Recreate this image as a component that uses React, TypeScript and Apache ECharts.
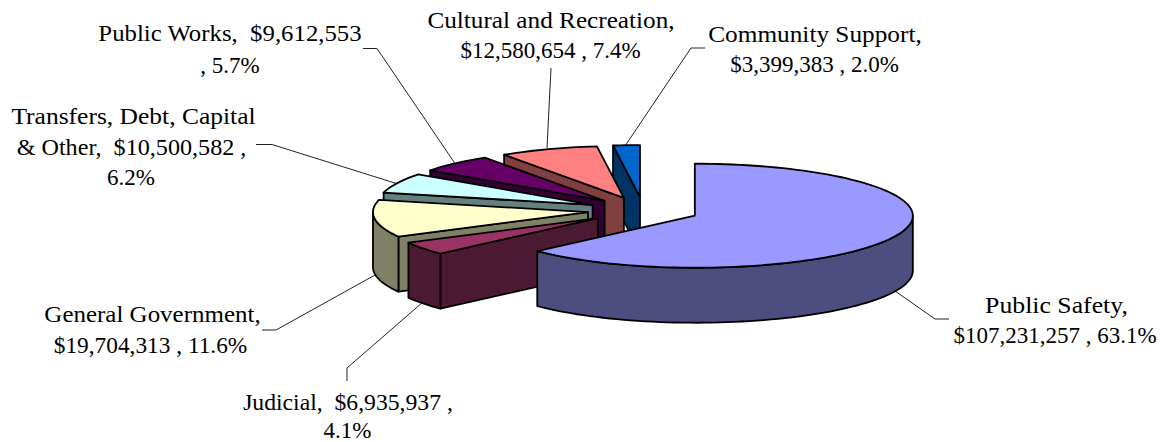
import React, { useEffect, useRef } from "react";
import * as echarts from "echarts";

const sliceNames = ["Public Safety", "Judicial", "General Government", "Transfers, Debt, Capital & Other", "Public Works", "Cultural and Recreation", "Community Support"];
const sliceValues = [107231257, 6935937, 19704313, 10500582, 9612553, 12580654, 3399383];
const topColors = ["#9999FF", "#993366", "#FFFFCC", "#CCFFFF", "#660066", "#FF8080", "#0066CC"];
const sideColors = ["#4D4D80", "#4D1A33", "#808066", "#668080", "#330033", "#804040", "#003366"];
const labelLines = [
  ["Public Safety,", "$107,231,257 , 63.1%"],
  ["Judicial,  $6,935,937 ,", "4.1%"],
  ["General Government,", "$19,704,313 , 11.6%"],
  ["Transfers, Debt, Capital", "& Other,  $10,500,582 ,", "6.2%"],
  ["Public Works,  $9,612,553", ", 5.7%"],
  ["Cultural and Recreation,", "$12,580,654 , 7.4%"],
  ["Community Support,", "$3,399,383 , 2.0%"],
];
// [centre x, centre y, horizontal stretch] of every label line
const labelLayout = [
  [[1056.5, 304.5, 1.12], [1055, 335.5, 1.0]],
  [[348, 402.5, 1.03], [347.5, 430, 1.0]],
  [[152.5, 314.5, 1.086], [150.5, 345.5, 1.015]],
  [[133.5, 116, 1.11], [131.5, 147, 1.05], [131, 177, 1.0]],
  [[230, 33, 1.078], [230, 65, 1.0]],
  [[551, 19.5, 1.097], [550.5, 50, 1.0]],
  [[815, 33.5, 1.1], [814.5, 64.5, 1.0]],
];
const leaderLines = [
  [[895, 291], [935, 319], [949, 319]],
  [[423, 302], [347, 368], [347, 381]],
  [[375, 275], [276, 330], [262, 330]],
  [[398, 184], [272, 144.5], [256, 144.5]],
  [[456, 165], [377, 48.5], [363, 48.5]],
  [[547, 148], [551, 68]],
  [[625, 146], [691, 48], [705, 48]],
];

const CX = 643.5, CY = 210.4, RX_RIGHT = 218, RX_LEFT = 215, RY = 52, DEPTH = 55, EXPLODE = 56;
const total = sliceValues.reduce((a, b) => a + b, 0);
const rad = (d: number) => (d * Math.PI) / 180;

function renderSlice(_params: any, api: any) {
  const i = api.value(0);
  const before = sliceValues.slice(0, i).reduce((a, b) => a + b, 0);
  const a1 = (before / total) * 360;
  const a2 = ((before + api.value(1)) / total) * 360;
  const mid = (a1 + a2) / 2;
  const ax = CX + EXPLODE * Math.sin(rad(mid));
  const ay = CY - EXPLODE * (RY / RX_RIGHT) * Math.cos(rad(mid));
  const rim = (a: number, dz = 0) => {
    const s = Math.sin(rad(a));
    return [ax + (s > 0 ? RX_RIGHT : RX_LEFT) * s, ay - RY * Math.cos(rad(a)) + dz];
  };
  const arc = (from: number, to: number, dz = 0) => {
    const n = Math.max(2, Math.ceil(Math.abs(to - from) / 2));
    const pts: number[][] = [];
    for (let k = 0; k <= n; k++) pts.push(rim(from + ((to - from) * k) / n, dz));
    return pts;
  };
  const stroke = { stroke: "#000", lineWidth: 1.8, lineJoin: "round" };
  const side = { ...stroke, fill: sideColors[i] };
  const children: any[] = [];
  const wall = (a: number) => [[ax, ay], rim(a), rim(a, DEPTH), [ax, ay + DEPTH]];
  if (Math.sin(rad(a1)) < -1e-6) children.push({ type: "polygon", shape: { points: wall(a1) }, style: side });
  if (Math.sin(rad(a2)) > 1e-6) children.push({ type: "polygon", shape: { points: wall(a2) }, style: side });
  const w1 = Math.max(a1, 90), w2 = Math.min(a2, 270);
  if (w2 > w1) {
    children.push({
      type: "polygon",
      shape: { points: [...arc(w1, w2), ...arc(w2, w1, DEPTH)] },
      style: side,
    });
  }
  children.push({
    type: "polygon",
    shape: { points: [[ax, ay], ...arc(a1, a2)] },
    style: { ...stroke, fill: topColors[i] },
  });
  return { type: "group", children };
}

export default function App() {
  const ref = useRef<HTMLDivElement>(null);
  useEffect(() => {
    document.body.style.margin = "0";
    const chart = echarts.init(ref.current!, undefined, { renderer: "svg" });
    const order = sliceValues.map((_, i) => i).reverse();
    const texts: any[] = [];
    labelLines.forEach((lines, i) =>
      lines.forEach((t, j) => {
        const [x, y, sx] = labelLayout[i][j];
        texts.push({
          type: "text",
          z: 5,
          x,
          y,
          scaleX: sx,
          style: {
            text: t,
            fill: "#000",
            font: '23px "Liberation Serif"',
            lineHeight: 18,
            align: "center",
            verticalAlign: "middle",
          },
        });
      })
    );
    chart.setOption({
      animation: false,
      backgroundColor: "#fff",
      graphic: [
        ...leaderLines.map((pts) => ({
          type: "polyline",
          z: 1,
          shape: { points: pts },
          style: { stroke: "#222", lineWidth: 1, fill: "none" },
        })),
        ...texts,
      ],
      series: [
        {
          type: "custom",
          coordinateSystem: "none",
          silent: true,
          z: 2,
          clip: false,
          renderItem: renderSlice,
          encode: {},
          data: order.map((i) => ({ name: sliceNames[i], value: [i, sliceValues[i]] })),
        },
      ],
    });
    return () => chart.dispose();
  }, []);
  return <div ref={ref} style={{ position: "absolute", left: 0, top: 0, width: 1166, height: 442 }} />;
}
